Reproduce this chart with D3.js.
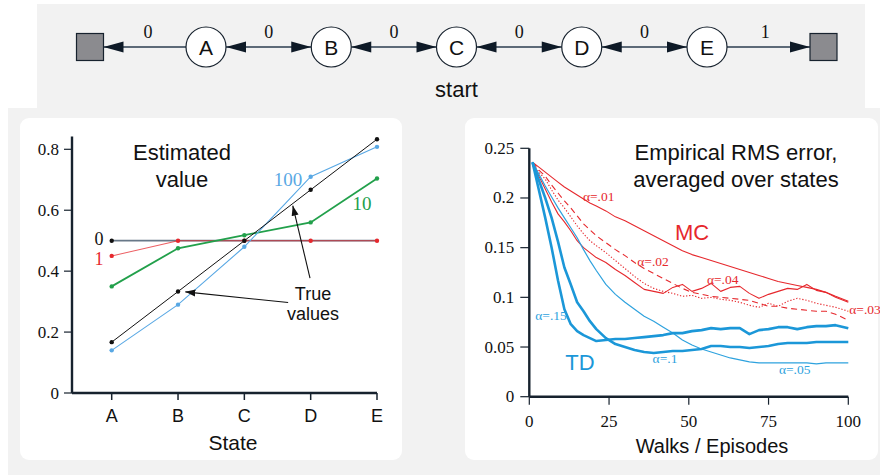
<html>
<head>
<style>
    body { margin: 0; background: #ffffff; }
    svg text { font-family: "Liberation Sans", Arial, sans-serif; fill: #111; }
    svg text.serif { font-family: "Liberation Serif", "Times New Roman", serif; }
</style>
</head>
<body>
<svg id="container" width="880" height="475"></svg>

<script src="https://cdn.jsdelivr.net/npm/d3@7"></script>
<script>
    // ---- data ----
    let nodes = ["A", "B", "C", "D", "E"]
    let rewards = ["0", "0", "0", "0", "0", "1"]

    let states = ["A", "B", "C", "D", "E"]
    let trueValues = [0.167, 0.333, 0.5, 0.667, 0.833]
    let est0 = [0.5, 0.5, 0.5, 0.5, 0.5]
    let est1 = [0.45, 0.5, 0.5, 0.5, 0.5]
    let est10 = [0.35, 0.475, 0.518, 0.56, 0.704]
    let est100 = [0.14, 0.29, 0.48, 0.71, 0.808]
    let yTicksL = [0, 0.2, 0.4, 0.6, 0.8]

    let episodes = [1, 3, 5, 7, 9, 11, 13, 15, 17, 19, 21, 24, 27, 30, 33, 36, 39, 42, 45, 48,
        51, 54, 57, 60, 63, 66, 69, 72, 75, 78, 81, 84, 87, 90, 93, 96, 100]
    let mc01 = [0.236, 0.231, 0.226, 0.221, 0.216, 0.211, 0.207, 0.203, 0.199, 0.195, 0.192, 0.187, 0.181,
        0.177, 0.172, 0.167, 0.162, 0.157, 0.152, 0.147, 0.143, 0.140, 0.137, 0.134, 0.131, 0.128, 0.125,
        0.122, 0.119, 0.116, 0.114, 0.112, 0.110, 0.108, 0.105, 0.101, 0.096]
    let mc02 = [0.236, 0.228, 0.222, 0.213, 0.205, 0.197, 0.190, 0.182, 0.174, 0.168, 0.162, 0.155, 0.148,
        0.142, 0.135, 0.129, 0.124, 0.119, 0.114, 0.109, 0.105, 0.103, 0.101, 0.100, 0.099, 0.098, 0.097,
        0.094, 0.091, 0.091, 0.089, 0.088, 0.087, 0.086, 0.086, 0.083, 0.077]
    let mc03 = [0.236, 0.226, 0.219, 0.208, 0.198, 0.190, 0.181, 0.172, 0.164, 0.157, 0.152, 0.145, 0.137,
        0.129, 0.121, 0.114, 0.109, 0.106, 0.104, 0.101, 0.102, 0.099, 0.100, 0.098, 0.097, 0.095, 0.092,
        0.090, 0.094, 0.091, 0.096, 0.099, 0.097, 0.094, 0.092, 0.090, 0.086]
    let mc04 = [0.236, 0.222, 0.209, 0.196, 0.184, 0.176, 0.167, 0.157, 0.150, 0.145, 0.140, 0.135, 0.128,
        0.122, 0.115, 0.108, 0.106, 0.104, 0.110, 0.113, 0.106, 0.109, 0.114, 0.106, 0.110, 0.111, 0.104,
        0.099, 0.103, 0.106, 0.109, 0.108, 0.113, 0.107, 0.105, 0.100, 0.095]
    let td05 = [0.236, 0.224, 0.212, 0.201, 0.190, 0.180, 0.170, 0.160, 0.148, 0.137, 0.127, 0.113, 0.103,
        0.095, 0.088, 0.081, 0.076, 0.070, 0.064, 0.057, 0.052, 0.048, 0.045, 0.042, 0.039, 0.037, 0.035,
        0.034, 0.034, 0.034, 0.034, 0.034, 0.034, 0.033, 0.034, 0.034, 0.034]
    let td10 = [0.236, 0.218, 0.200, 0.180, 0.156, 0.130, 0.113, 0.095, 0.086, 0.076, 0.068, 0.059, 0.053,
        0.050, 0.047, 0.045, 0.044, 0.045, 0.046, 0.046, 0.047, 0.048, 0.051, 0.051, 0.050, 0.050, 0.049,
        0.050, 0.051, 0.053, 0.054, 0.054, 0.054, 0.055, 0.055, 0.055, 0.055]
    let td15 = [0.236, 0.208, 0.180, 0.150, 0.117, 0.088, 0.073, 0.066, 0.062, 0.059, 0.056, 0.057, 0.058,
        0.058, 0.059, 0.060, 0.061, 0.062, 0.064, 0.064, 0.066, 0.067, 0.069, 0.068, 0.069, 0.069, 0.063,
        0.067, 0.068, 0.070, 0.070, 0.068, 0.070, 0.071, 0.071, 0.072, 0.069]
    let yTicksR = [0, 0.05, 0.1, 0.15, 0.2, 0.25]
    let yLabelsR = ["0", "0.05", "0.1", "0.15", "0.2", "0.25"]
    let xTicksR = [0, 25, 50, 75, 100]

    let red = "#e6282d"
    let blue = "#1b97d8"
    let axisColor = "#17222e"

    let svg = d3.select("#container")

    // backgrounds
    svg.append("rect").attr("x", 37).attr("y", 4).attr("width", 828).attr("height", 110).attr("fill", "#f2f2f2")
    svg.append("rect").attr("x", 8).attr("y", 108).attr("width", 872).attr("height", 367).attr("fill", "#f2f2f2")
    svg.append("rect").attr("x", 20).attr("y", 118).attr("width", 382).attr("height", 342).attr("rx", 9).attr("fill", "#fff")
    svg.append("rect").attr("x", 465).attr("y", 118).attr("width", 413).attr("height", 342).attr("rx", 9).attr("fill", "#fff")

    // ---- random walk diagram ----
    let diag = svg.append("g")
    let nodeX = d3.scalePoint().domain(nodes).range([206, 707])
    let cy = 47, r = 20, sq = 27
    let leftSq = nodeX("A") - 116
    let rightSq = nodeX("E") + 116.5
    let centers = [leftSq].concat(nodes.map(n => nodeX(n))).concat([rightSq])

    function head(g, tipX, dir) {
        // dir: -1 points left, 1 points right
        g.append("path")
            .attr("d", d3.line()([[tipX, cy], [tipX - dir * 20, cy - 5.5], [tipX - dir * 20, cy + 5.5]]) + "Z")
            .attr("fill", "#0e1a27")
    }

    for (let i = 0; i < centers.length - 1; i++) {
        let a = centers[i], b = centers[i + 1]
        let x1 = i == 0 ? a + sq / 2 : a + r
        let x2 = i == centers.length - 2 ? b - sq / 2 : b - r
        diag.append("line").attr("x1", x1).attr("x2", x2).attr("y1", cy).attr("y2", cy)
            .attr("stroke", "#5d6a78").attr("stroke-width", 2)
        if (i < centers.length - 2) head(diag, x1, -1)
        if (i > 0) head(diag, x2, 1)
        diag.append("text").attr("class", "serif")
            .attr("x", (a + b) / 2).attr("y", 37.5)
            .attr("text-anchor", "middle").attr("font-size", 18)
            .text(rewards[i])
    }

    diag.selectAll(".term").data([leftSq, rightSq]).enter().append("rect")
        .attr("x", d => d - sq / 2).attr("y", cy - sq / 2)
        .attr("width", sq).attr("height", sq)
        .attr("fill", "#8b8b8f").attr("stroke", "#17222e").attr("stroke-width", 1.2)

    diag.selectAll(".node").data(nodes).enter().append("circle")
        .attr("cx", d => nodeX(d)).attr("cy", cy).attr("r", r)
        .attr("fill", "#fff").attr("stroke", "#17222e").attr("stroke-width", 1.2)
    diag.selectAll(".nodeLabel").data(nodes).enter().append("text")
        .attr("x", d => nodeX(d)).attr("y", cy + 7.5)
        .attr("text-anchor", "middle").attr("font-size", 21)
        .text(d => d)
    diag.append("text").attr("x", nodeX("C")).attr("y", 97)
        .attr("text-anchor", "middle").attr("font-size", 22).text("start")

    // ---- left chart: estimated value ----
    let left = svg.append("g")
    let xL = d3.scalePoint().domain(states).range([111.7, 377])
    let xIdx = d3.scaleLinear().domain([0, 4]).range([111.7, 377])
    let yL = d3.scaleLinear().domain([0, 0.8]).range([393, 149.3])
    let axL = 72

    left.append("line").attr("x1", axL).attr("x2", axL).attr("y1", yL(0)).attr("y2", yL(0.842))
        .attr("stroke", axisColor).attr("stroke-width", 2.4)
    left.append("line").attr("x1", axL).attr("x2", xL("E")).attr("y1", yL(0)).attr("y2", yL(0))
        .attr("stroke", axisColor).attr("stroke-width", 2.4)
    left.selectAll(".yt").data(yTicksL).enter().append("line")
        .attr("x1", axL - 8).attr("x2", axL).attr("y1", d => yL(d)).attr("y2", d => yL(d))
        .attr("stroke", axisColor).attr("stroke-width", 1.2)
    left.selectAll(".ytl").data(yTicksL).enter().append("text").attr("class", "serif")
        .attr("x", axL - 13).attr("y", d => yL(d) + 5.5)
        .attr("text-anchor", "end").attr("font-size", 17).attr("fill", "#222")
        .text(d => d == 0 ? "0" : d3.format(".1f")(d))
    left.selectAll(".xt").data(states).enter().append("line")
        .attr("x1", d => xL(d)).attr("x2", d => xL(d)).attr("y1", yL(0)).attr("y2", yL(0) + 7)
        .attr("stroke", axisColor).attr("stroke-width", 1.5)
    left.selectAll(".xtl").data(states).enter().append("text")
        .attr("x", d => xL(d)).attr("y", 421.5)
        .attr("text-anchor", "middle").attr("font-size", 18)
        .text(d => d)
    left.append("text").attr("x", 233).attr("y", 450).attr("text-anchor", "middle").attr("font-size", 21).text("State")

    let lineL = d3.line().x((d, i) => xL(states[i])).y(d => yL(d))

    let seriesL = [
        { vals: est0, color: "#687888", width: 1.8, dots: [0], dotColor: "#111" },
        { vals: est1, color: red, width: 1.1, dots: [0, 1, 2, 3, 4], dotColor: red, opacity: 0.75 },
        { vals: est10, color: "#22a04b", width: 1.8, dots: [0, 1, 2, 3, 4], dotColor: "#22a04b" },
        { vals: est100, color: "#59a8e4", width: 1.1, dots: [0, 1, 2, 3, 4], dotColor: "#59a8e4" },
        { vals: trueValues, color: "#111", width: 1, dots: [0, 1, 2, 3, 4], dotColor: "#111" }
    ]
    seriesL.forEach(s => {
        left.append("path").attr("d", lineL(s.vals))
            .attr("fill", "none").attr("stroke", s.color).attr("stroke-width", s.width)
            .attr("stroke-opacity", s.opacity || 1)
        left.selectAll(null).data(s.dots).enter().append("circle")
            .attr("cx", i => xL(states[i])).attr("cy", i => yL(s.vals[i])).attr("r", 2.2)
            .attr("fill", s.dotColor)
    })

    left.append("text").attr("x", 182).attr("y", 159.5).attr("text-anchor", "middle").attr("font-size", 22).text("Estimated")
    left.append("text").attr("x", 182).attr("y", 186.5).attr("text-anchor", "middle").attr("font-size", 22).text("value")
    left.append("text").attr("class", "serif").attr("x", 99).attr("y", 245).attr("text-anchor", "middle").attr("font-size", 18).attr("fill", "#222").text("0")
    left.append("text").attr("class", "serif").attr("x", 99).attr("y", 264.5).attr("text-anchor", "middle").attr("font-size", 18).style("fill", red).text("1")
    left.append("text").attr("class", "serif").attr("x", 288).attr("y", 186).attr("text-anchor", "middle").attr("font-size", 19).style("fill", "#59a8e4").text("100")
    left.append("text").attr("class", "serif").attr("x", 362).attr("y", 210).attr("text-anchor", "middle").attr("font-size", 19).style("fill", "#22a04b").text("10")
    left.append("text").attr("x", 313).attr("y", 299.5).attr("text-anchor", "middle").attr("font-size", 18).text("True")
    left.append("text").attr("x", 313).attr("y", 319.5).attr("text-anchor", "middle").attr("font-size", 18).text("values")

    svg.append("defs").append("marker").attr("id", "tip")
        .attr("viewBox", "0 -4 10 8").attr("refX", 10).attr("refY", 0)
        .attr("markerWidth", 10).attr("markerHeight", 8).attr("markerUnits", "userSpaceOnUse")
        .attr("orient", "auto")
        .append("path").attr("d", "M0,-3.5L10,0L0,3.5Z").attr("fill", "#111")

    let pointers = [
        { from: [2.99, 0.377], to: [2.73, 0.615] },
        { from: [2.66, 0.297], to: [1.11, 0.332] }
    ]
    left.selectAll(".ptr").data(pointers).enter().append("line")
        .attr("x1", d => xIdx(d.from[0])).attr("y1", d => yL(d.from[1]))
        .attr("x2", d => xIdx(d.to[0])).attr("y2", d => yL(d.to[1]))
        .attr("stroke", "#111").attr("stroke-width", 1.1)
        .attr("marker-end", "url(#tip)")

    // ---- right chart: RMS error ----
    let right = svg.append("g")
    let xR = d3.scaleLinear().domain([0, 100]).range([529.3, 848.3])
    let yR = d3.scaleLinear().domain([0, 0.25]).range([396.7, 148.3])

    right.append("line").attr("x1", xR(0)).attr("x2", xR(0)).attr("y1", yR(0)).attr("y2", yR(0.25))
        .attr("stroke", axisColor).attr("stroke-width", 2.4)
    right.append("line").attr("x1", xR(0)).attr("x2", xR(100)).attr("y1", yR(0)).attr("y2", yR(0))
        .attr("stroke", axisColor).attr("stroke-width", 2.4)
    right.selectAll(".yt").data(yTicksR).enter().append("line")
        .attr("x1", xR(0) - 9).attr("x2", xR(0)).attr("y1", d => yR(d)).attr("y2", d => yR(d))
        .attr("stroke", axisColor).attr("stroke-width", 1.2)
    right.selectAll(".ytl").data(yTicksR).enter().append("text").attr("class", "serif")
        .attr("x", xR(0) - 15).attr("y", d => yR(d) + 5.5)
        .attr("text-anchor", "end").attr("font-size", 17).attr("fill", "#222")
        .text((d, i) => yLabelsR[i])
    right.selectAll(".xt").data(xTicksR).enter().append("line")
        .attr("x1", d => xR(d)).attr("x2", d => xR(d)).attr("y1", yR(0)).attr("y2", yR(0) + 8)
        .attr("stroke", axisColor).attr("stroke-width", 1.2)
    right.selectAll(".xtl").data(xTicksR).enter().append("text").attr("class", "serif")
        .attr("x", d => xR(d)).attr("y", 427)
        .attr("text-anchor", "middle").attr("font-size", 17).attr("fill", "#222")
        .text(d => d)
    right.append("text").attr("x", 712).attr("y", 453).attr("text-anchor", "middle").attr("font-size", 20).text("Walks / Episodes")

    let lineR = d3.line().x((d, i) => xR(episodes[i])).y(d => yR(d))
    let seriesR = [
        { vals: mc01, color: red, width: 1.1 },
        { vals: mc02, color: red, width: 1.1, dash: "6,4" },
        { vals: mc03, color: red, width: 1.1, dash: "1.3,1.8" },
        { vals: mc04, color: red, width: 1.1 },
        { vals: td05, color: "#2ea2de", width: 1.2 },
        { vals: td10, color: blue, width: 2.6 },
        { vals: td15, color: blue, width: 2.6 }
    ]
    seriesR.forEach(s => {
        right.append("path").attr("d", lineR(s.vals))
            .attr("fill", "none").attr("stroke", s.color).attr("stroke-width", s.width)
            .attr("stroke-dasharray", s.dash || null).attr("stroke-linejoin", "round")
    })

    right.append("text").attr("x", 736).attr("y", 159.5).attr("text-anchor", "middle").attr("font-size", 22).text("Empirical RMS error,")
    right.append("text").attr("x", 736).attr("y", 186.5).attr("text-anchor", "middle").attr("font-size", 22).text("averaged over states")
    right.append("text").attr("x", 692).attr("y", 239.5).attr("text-anchor", "middle").attr("font-size", 22).style("fill", red).text("MC")
    right.append("text").attr("x", 580).attr("y", 370).attr("text-anchor", "middle").attr("font-size", 22).style("fill", blue).text("TD")

    let alphaLabels = [
        { t: "α=.01", x: 598.7, y: 200.7, c: red },
        { t: "α=.02", x: 653, y: 266, c: red },
        { t: "α=.04", x: 722.7, y: 284, c: red },
        { t: "α=.03", x: 865, y: 314.3, c: red },
        { t: "α=.15", x: 551, y: 320, c: "#2ea2de" },
        { t: "α=.1", x: 665, y: 362.7, c: "#2ea2de" },
        { t: "α=.05", x: 794.7, y: 374.3, c: "#2ea2de" }
    ]
    right.selectAll(".al").data(alphaLabels).enter().append("text").attr("class", "serif")
        .attr("x", d => d.x).attr("y", d => d.y)
        .attr("text-anchor", "middle").attr("font-size", 13.5)
        .style("fill", d => d.c)
        .text(d => d.t)
</script>
</body>
</html>
